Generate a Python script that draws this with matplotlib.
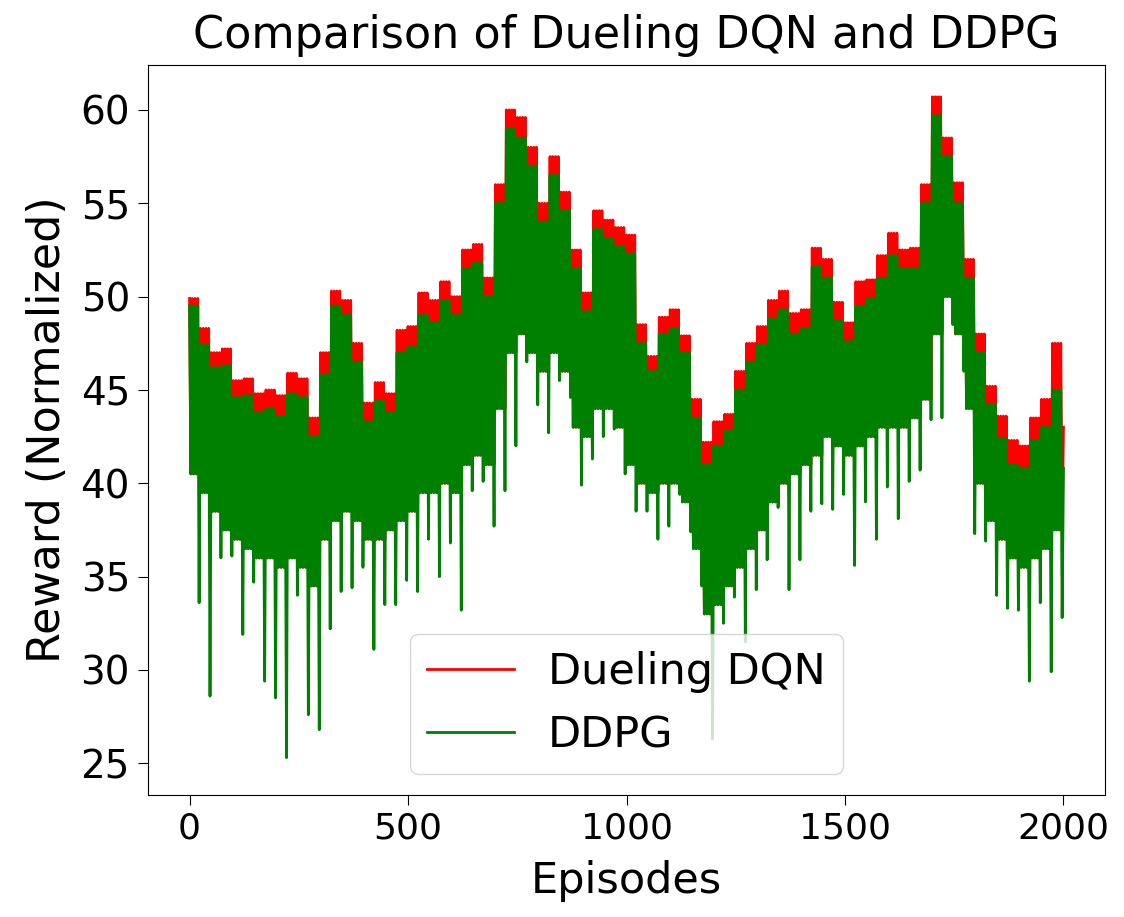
import numpy as np
import matplotlib
matplotlib.use("Agg")
import matplotlib.pyplot as plt

# values, one entry per 25-episode block
bin_start = np.arange(0, 2000, 25)

dqn_top = [49.9, 48.3, 47.0, 47.2, 45.5, 45.6, 44.8, 45.0, 44.7, 45.9,
           45.6, 43.5, 47.0, 50.3, 49.8, 47.5, 44.3, 45.4, 44.8, 48.2,
           48.4, 50.2, 49.8, 50.8, 50.0, 52.5, 52.8, 51.0, 56.0, 60.0,
           59.6, 58.0, 55.0, 57.5, 55.6, 52.5, 50.2, 54.6, 54.1, 53.7,
           53.3, 48.5, 46.8, 48.9, 49.3, 47.9, 44.5, 42.2, 43.3, 43.7,
           46.0, 47.5, 48.4, 49.8, 50.3, 49.1, 49.3, 52.6, 52.0, 49.7,
           48.6, 50.8, 50.9, 52.2, 53.4, 52.5, 52.6, 56.0, 60.7, 58.5,
           56.1, 52.0, 48.0, 45.2, 43.6, 42.3, 42.0, 43.5, 44.5, 47.5]

ddpg_top = [49.5, 47.4, 46.2, 46.3, 44.6, 44.7, 43.8, 44.0, 43.6, 44.8,
            44.6, 42.5, 45.8, 49.5, 49.0, 46.5, 43.3, 44.4, 43.8, 47.0,
            47.3, 49.0, 48.6, 49.8, 49.0, 51.5, 51.8, 50.0, 55.0, 59.0,
            58.5, 57.0, 54.0, 56.5, 54.6, 51.5, 49.2, 53.6, 53.1, 52.7,
            52.3, 47.5, 46.0, 48.0, 48.3, 47.0, 43.5, 41.0, 42.0, 42.8,
            45.0, 46.5, 47.4, 48.8, 49.3, 48.0, 48.3, 51.6, 51.0, 48.7,
            47.6, 49.5, 49.9, 51.0, 52.2, 51.5, 51.5, 55.0, 59.7, 57.5,
            55.0, 51.0, 47.0, 44.2, 42.4, 41.0, 40.8, 42.3, 43.0, 45.0]

band_bottom = [40.5, 39.5, 38.5, 37.5, 37.0, 36.5, 36.0, 36.0, 35.5, 36.0,
               35.5, 34.5, 37.0, 38.0, 38.5, 38.0, 37.0, 37.0, 37.5, 38.0,
               38.5, 39.5, 39.5, 40.0, 39.5, 41.0, 41.5, 41.0, 44.0, 47.0,
               48.0, 47.0, 46.0, 47.0, 46.0, 43.0, 42.5, 44.0, 44.0, 43.0,
               41.0, 40.0, 39.5, 40.0, 40.0, 39.0, 36.5, 33.0, 33.5, 34.5,
               35.5, 36.5, 37.5, 39.0, 40.0, 40.5, 41.0, 41.5, 42.5, 42.0,
               41.5, 42.0, 42.5, 43.0, 43.0, 43.0, 43.5, 44.5, 48.0, 50.0,
               48.0, 44.0, 40.0, 38.0, 37.0, 36.0, 35.5, 36.0, 36.5, 37.5]

ddpg_low = [33.6, 28.6, 36.0, 36.1, 31.9, 34.7, 29.4, 28.5, 25.3, 34.0,
            27.6, 26.8, 32.2, 34.2, 34.4, 35.5, 31.1, 33.5, 33.5, 34.8,
            34.2, 37.0, 35.0, 36.8, 33.2, 39.6, 40.1, 37.7, 39.6, 42.0,
            46.5, 44.2, 42.7, 45.5, 44.6, 39.9, 41.3, 42.5, 42.9, 40.5,
            38.5, 38.5, 37.0, 37.7, 39.4, 37.4, 34.5, 26.3, 32.5, 33.9,
            31.5, 34.3, 35.9, 38.7, 34.3, 35.9, 38.5, 38.9, 38.6, 39.4,
            35.6, 39.0, 37.0, 39.8, 38.1, 40.1, 40.7, 43.4, 43.5, 48.5,
            46.0, 37.3, 36.9, 34.0, 33.3, 33.2, 29.4, 33.6, 29.9, 32.8]

last_episode = 2000
dqn_last = 43.0
ddpg_last = 40.8

# eight samples per block so the noisy band reads as solid
offsets = np.arange(8) * 3.125
episodes = (bin_start[:, None] + offsets).ravel()
episodes = np.append(episodes, last_episode)

dqn = np.column_stack([dqn_top, band_bottom] * 4).ravel()
dqn = np.append(dqn, dqn_last)
ddpg = np.column_stack([ddpg_top, band_bottom, ddpg_top, band_bottom,
                        ddpg_top, band_bottom, ddpg_top, ddpg_low]).ravel()
ddpg = np.append(ddpg, ddpg_last)

fig = plt.figure(figsize=(11.24, 9.17), dpi=100)
ax = fig.add_axes([0.1317, 0.133, 0.8514, 0.796])

ax.plot(episodes, dqn, color='red', linewidth=2.0, label='Dueling DQN')
ax.plot(episodes, ddpg, color='green', linewidth=2.0, label='DDPG')

ax.set_xlim(-95, 2095)
ax.set_ylim(23.3, 62.4)
ax.set_xticks([0, 500, 1000, 1500, 2000])
ax.set_yticks([25, 30, 35, 40, 45, 50, 55, 60])

ax.set_title("Comparison of Dueling DQN and DDPG", fontsize=32, pad=12)
ax.set_xlabel("Episodes", fontsize=31, labelpad=10)
ax.set_ylabel("Reward (Normalized)", fontsize=32, labelpad=8)
ax.tick_params(axis='y', labelsize=28, length=7, pad=6)
ax.tick_params(axis='x', labelsize=26, length=7, pad=5)

ax.legend(loc='lower center', fontsize=31)

fig.savefig("out.png", dpi=100)
